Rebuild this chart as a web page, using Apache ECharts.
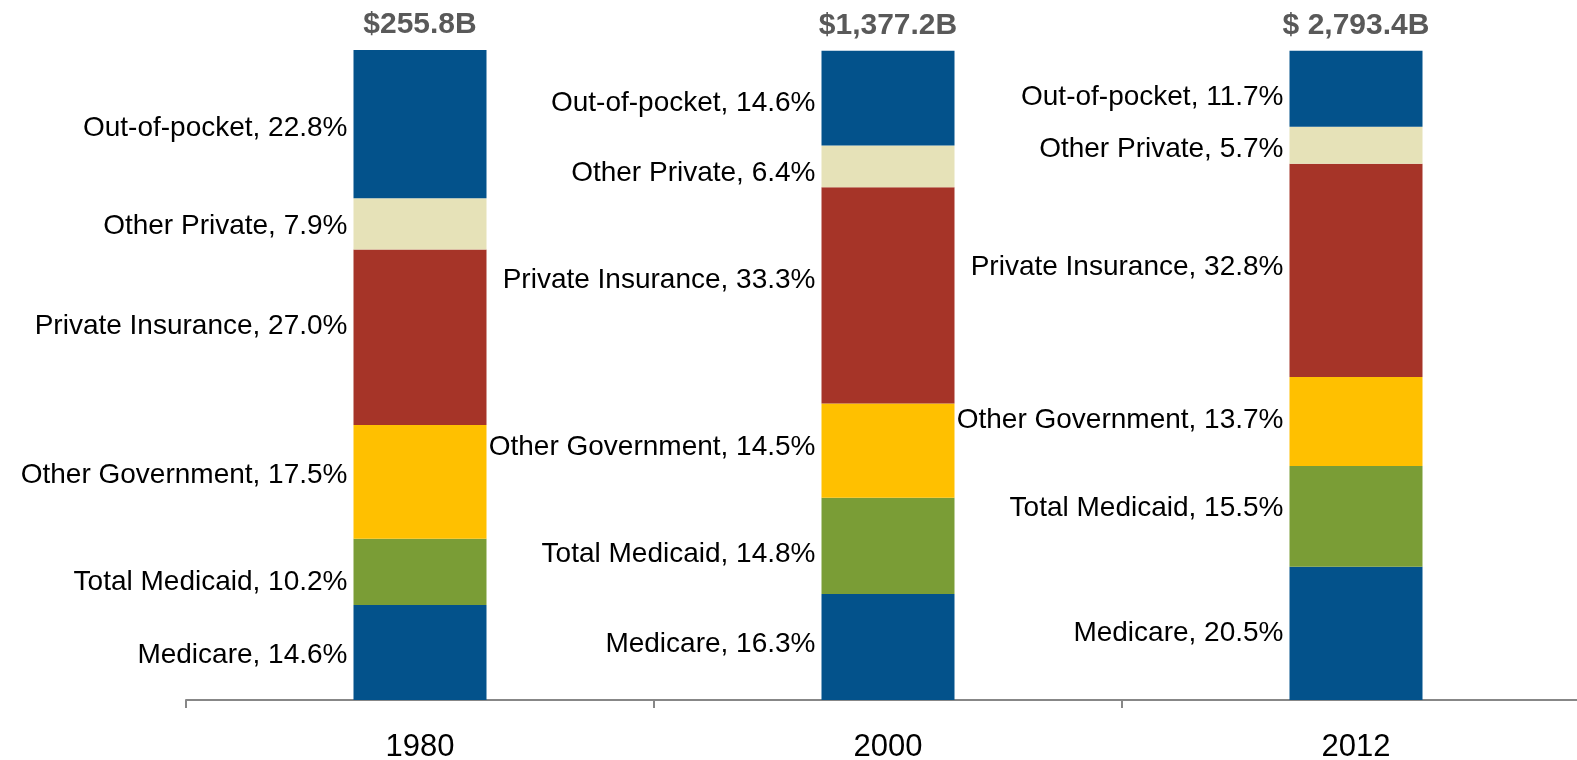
<!DOCTYPE html>
<html>
<head>
<meta charset="utf-8">
<script src="https://cdn.jsdelivr.net/npm/echarts@6/dist/echarts.min.js"></script>
<style>
html,body{margin:0;padding:0;background:#fff;}
#chart{width:1577px;height:760px;}
</style>
</head>
<body>
<div id="chart"></div>
<script>
const years = ['1980', '2000', '2012'];
const totals = ['$255.8B', '$1,377.2B', '$ 2,793.4B'];
const medicare = [14.6, 16.3, 20.5];
const totalMedicaid = [10.2, 14.8, 15.5];
const otherGovernment = [17.5, 14.5, 13.7];
const privateInsurance = [27.0, 33.3, 32.8];
const otherPrivate = [7.9, 6.4, 5.7];
const outOfPocket = [22.8, 14.6, 11.7];

// vertical nudges of the segment labels (styling only), per series, per year
const labelNudge = {
  'Medicare': [3, -3, 0],
  'Total Medicaid': [10, 8, -8],
  'Other Government': [-7, -3, -1],
  'Private Insurance': [-11, -15, -3],
  'Other Private': [2, 7, 4],
  'Out-of-pocket': [4, 5, 9]
};

const seriesDefs = [
  ['Medicare', medicare, '#03528B'],
  ['Total Medicaid', totalMedicaid, '#7A9D36'],
  ['Other Government', otherGovernment, '#FFC000'],
  ['Private Insurance', privateInsurance, '#A63428'],
  ['Other Private', otherPrivate, '#E6E2B8'],
  ['Out-of-pocket', outOfPocket, '#03528B']
];

const font = 'Liberation Sans, Arial, sans-serif';

const series = seriesDefs.map(([name, data, color]) => ({
  name: name,
  type: 'bar',
  stack: 'share',
  barWidth: 133,
  data: data.map((v, i) => ({ value: v, label: { offset: [0, labelNudge[name][i]] } })),
  itemStyle: { color: color },
  label: {
    show: true,
    position: 'left',
    distance: 6,
    color: '#000',
    fontFamily: font,
    fontSize: 28,
    formatter: p => p.seriesName + ', ' + p.value.toFixed(1) + '%'
  }
}));

series.push({
  name: 'Total',
  type: 'bar',
  stack: 'share',
  barWidth: 133,
  data: years.map(() => 0),
  itemStyle: { color: 'transparent' },
  label: {
    show: true,
    position: 'top',
    distance: 10,
    color: '#595959',
    fontFamily: font,
    fontWeight: 'bold',
    fontSize: 30,
    formatter: p => totals[p.dataIndex]
  }
});

const chart = echarts.init(document.getElementById('chart'));
chart.setOption({
  animation: false,
  backgroundColor: '#fff',
  grid: { left: 186, right: -13, top: 50, bottom: 60, outerBoundsMode: 'none', containLabel: false },
  xAxis: {
    type: 'category',
    data: years,
    axisLine: { lineStyle: { color: '#878787', width: 2 } },
    axisTick: { show: true, length: 8, lineStyle: { color: '#878787', width: 2 } },
    axisLabel: { color: '#000', fontFamily: font, fontSize: 31, margin: 32 }
  },
  yAxis: {
    type: 'value',
    min: 0,
    max: 100,
    show: false,
    splitLine: { show: false }
  },
  series: series
});
</script>
</body>
</html>
